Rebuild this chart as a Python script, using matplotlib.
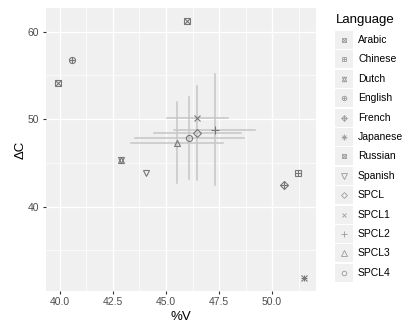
import matplotlib
matplotlib.use("Agg")
import matplotlib.pyplot as plt
from matplotlib.lines import Line2D
from matplotlib.patches import Rectangle

plt.rcParams['font.family'] = ['Liberation Sans', 'DejaVu Sans']

# language positions (%V, delta C)
languages = ['Arabic', 'Chinese', 'Dutch', 'English', 'French', 'Japanese',
             'Russian', 'Spanish', 'SPCL', 'SPCL1', 'SPCL2', 'SPCL3', 'SPCL4']
pct_v = [45.98, 51.2, 42.89, 40.58, 50.56, 51.48,
         39.91, 44.05, 46.47, 46.47, 47.29, 45.51, 46.10]
delta_c = [61.22, 43.89, 45.37, 56.8, 42.48, 31.82,
           54.1, 43.89, 48.42, 50.10, 48.8, 47.31, 47.82]
# spread for the synthetic languages (0 = none drawn)
x_err = [0, 0, 0, 0, 0, 0, 0, 0, 2.05, 1.43, 1.90, 2.17, 2.57]
y_err = [0, 0, 0, 0, 0, 0, 0, 0, 5.39, 0, 6.37, 4.66, 4.69]

# each shape is built from one or more stacked matplotlib markers
shapes = {
    'Arabic': [('s', 1.0), ('x', 1.0)],
    'Chinese': [('s', 1.0), ('+', 1.0)],
    'Dutch': [('^', 1.0), ('v', 1.0)],
    'English': [('o', 1.0), ('+', 1.0)],
    'French': [('D', 0.85), ('+', 1.15)],
    'Japanese': [('+', 1.1), ('x', 1.0)],
    'Russian': [('s', 1.0), ('x', 1.0)],
    'Spanish': [('v', 1.1)],
    'SPCL': [('D', 0.9)],
    'SPCL1': [('x', 1.0)],
    'SPCL2': [('+', 1.2)],
    'SPCL3': [('^', 1.1)],
    'SPCL4': [('o', 1.0)],
}

panel_bg = '#F0F0F0'
point_col = '#777777'

fig = plt.figure(figsize=(4.15, 3.27), dpi=100)
ax = fig.add_axes([0.110, 0.111, 0.651, 0.864])
ax.set_facecolor(panel_bg)

# grid
for v in [41.25, 43.75, 46.25, 48.75, 51.25]:
    ax.axvline(v, color='white', lw=0.5, zorder=0)
for v in [35, 45, 55]:
    ax.axhline(v, color='white', lw=0.5, zorder=0)
for v in [40, 42.5, 45, 47.5, 50]:
    ax.axvline(v, color='white', lw=1.0, zorder=0)
for v in [40, 50, 60]:
    ax.axhline(v, color='white', lw=1.0, zorder=0)

for i, lang in enumerate(languages):
    x, y = pct_v[i], delta_c[i]
    if x_err[i] > 0:
        ax.plot([x - x_err[i], x + x_err[i]], [y, y], color='#c6c6c6', lw=1.1, zorder=1)
    if y_err[i] > 0:
        ax.plot([x, x], [y - y_err[i], y + y_err[i]], color='#c6c6c6', lw=1.1, zorder=1)
    for m, s in shapes[lang]:
        ax.plot([x], [y], marker=m, markersize=4.4 * s, markerfacecolor='none',
                markeredgecolor=point_col, markeredgewidth=0.8, linestyle='none', zorder=3)

ax.set_xlim(39.33, 52.06)
ax.set_ylim(30.4, 62.67)
ax.set_xticks([40, 42.5, 45, 47.5, 50])
ax.set_xticklabels(['40.0', '42.5', '45.0', '47.5', '50.0'])
ax.set_yticks([40, 50, 60])
ax.tick_params(axis='both', colors='#333333', labelcolor='#4D4D4D', labelsize=7.5,
               length=2.5, width=0.8, pad=2)
for sp in ax.spines.values():
    sp.set_visible(False)
ax.set_xlabel('%V', fontsize=9.5, labelpad=3)
ax.set_ylabel('ΔC', fontsize=9.5, labelpad=1)

# legend, drawn in figure pixels
W, H = 415, 327
fig.text(336 / W, 1 - 20 / H, 'Language', fontsize=9.5, va='center', ha='left')
row0, step = 40.0, 19.4
for i, lang in enumerate(languages):
    cy = row0 + i * step
    fig.patches.append(Rectangle((335 / W, 1 - (cy + 9) / H), 18 / W, 18 / H,
                                 transform=fig.transFigure, facecolor=panel_bg,
                                 edgecolor='none'))
    for m, s in shapes[lang]:
        fig.add_artist(Line2D([344 / W], [1 - cy / H], marker=m, markersize=3.3 * s,
                              markerfacecolor='none', markeredgecolor='#9a9a9a',
                              markeredgewidth=0.6, linestyle='none',
                              transform=fig.transFigure))
    fig.text(358 / W, 1 - cy / H, lang, fontsize=7.5, va='center', ha='left')

fig.savefig('out.png', dpi=100)
